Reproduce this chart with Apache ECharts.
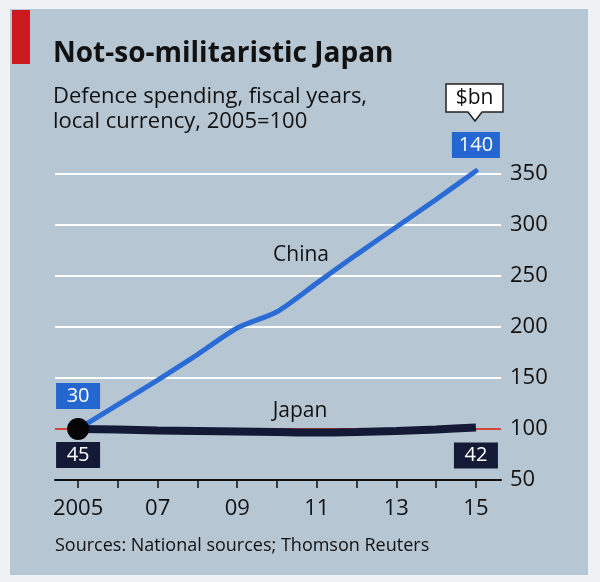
<!DOCTYPE html>
<html>
<head>
<meta charset="utf-8">
<script src="https://cdn.jsdelivr.net/npm/echarts@6/dist/echarts.min.js"></script>
<style>
  html, body { margin: 0; padding: 0; background: #eef2f5; }
  #wrap { position: relative; width: 600px; height: 582px; }
  #panel { position: absolute; left: 10px; top: 9px; width: 578px; height: 566px; background: #b6c6d3; }
  #chart { position: absolute; left: 0; top: 0; width: 600px; height: 582px; }
</style>
</head>
<body>
<div id="wrap"><div id="panel"></div><div id="chart"></div></div>
<script>
// ---- data ----
const years = [2005, 2006, 2007, 2008, 2009, 2010, 2011, 2012, 2013, 2014, 2015];
const china = [100, 124, 148, 173, 199, 215, 243, 271, 298, 325, 353];
const japan = [100, 99.5, 98.5, 98, 97.5, 97, 96.5, 97, 98, 99.5, 101.5];
const yTicks = [50, 100, 150, 200, 250, 300, 350];
const xLabelYears = [2005, 2007, 2009, 2011, 2013, 2015];
const chinaBn = ['30', '140'];   // $bn at 2005, 2015
const japanBn = ['45', '42'];    // $bn at 2005, 2015

const FONT = "'Open Sans', 'Noto Sans', sans-serif";
const BLUE = '#2a6bd6';
const BOXBLUE = '#2467d0';
const NAVY = '#141a36';

const chart = echarts.init(document.getElementById('chart'), null, { renderer: 'canvas' });

const chinaData = years.map((y, i) => [y, china[i]]);
const japanData = years.map((y, i) => [y, japan[i]]);
const last = years.length - 1;
const yMax = yTicks[yTicks.length - 1];

function box(coord, text, color, w, offY) {
  return {
    coord: coord,
    symbol: 'rect',
    symbolSize: [w, 26],
    symbolOffset: [0, offY],
    itemStyle: { color: color },
    label: {
      show: true, position: 'inside', formatter: text,
      color: '#fff', fontFamily: FONT, fontSize: 20
    }
  };
}

const option = {
  backgroundColor: 'transparent',
  animation: false,
  grid: { left: 55, right: 99, top: 174, bottom: 102, containLabel: false },
  xAxis: {
    type: 'value',
    min: 2004.42,
    max: 2015.63,
    axisLine: { show: true, lineStyle: { color: '#111', width: 2 } },
    axisTick: { show: true, customValues: years, length: 8, inside: false, lineStyle: { color: '#111', width: 1.5 } },
    axisLabel: {
      customValues: xLabelYears,
      margin: 18,
      fontFamily: FONT, fontSize: 22, color: '#111',
      formatter: v => (v === 2005 ? '2005' : String(v).slice(2))
    },
    splitLine: { show: false }
  },
  yAxis: {
    type: 'value',
    position: 'right',
    min: yTicks[0], max: yMax, interval: 50,
    axisLine: { show: false },
    axisTick: { show: false },
    axisLabel: { margin: 9, fontFamily: FONT, fontSize: 22, color: '#111' },
    splitLine: {
      show: true,
      lineStyle: { color: ['rgba(0,0,0,0)', '#d3463b', '#ffffff', '#ffffff', '#ffffff', '#ffffff', '#ffffff'], width: 2 }
    }
  },
  graphic: [
    { type: 'rect', shape: { x: 12, y: 10, width: 18, height: 54 }, style: { fill: '#cc1a1f' } },
    { type: 'text', x: 53, y: 54, style: { text: 'Not-so-militaristic Japan', font: "bold 28px " + FONT, fill: '#111', textVerticalAlign: 'middle' } },
    { type: 'text', x: 53, y: 97, style: { text: 'Defence spending, fiscal years,', font: "22px " + FONT, fill: '#111', textVerticalAlign: 'middle' } },
    { type: 'text', x: 53, y: 122, style: { text: 'local currency, 2005=100', font: "22px " + FONT, fill: '#111', textVerticalAlign: 'middle' } },
    { type: 'text', x: 55, y: 546, style: { text: 'Sources: National sources; Thomson Reuters', font: "18px " + FONT, fill: '#111', textVerticalAlign: 'middle' } },
    { type: 'polygon', shape: { points: [[446, 84], [503, 84], [503, 112], [482, 112], [475, 121], [468, 112], [446, 112]] }, style: { fill: '#fff', stroke: '#222', lineWidth: 1.5 } },
    { type: 'text', x: 474.5, y: 98, style: { text: '$bn', font: "21px " + FONT, fill: '#111', textAlign: 'center', textVerticalAlign: 'middle' } },
    { type: 'text', x: 301, y: 255, style: { text: 'China', font: "21px " + FONT, fill: '#111', textAlign: 'center', textVerticalAlign: 'middle' } },
    { type: 'text', x: 300, y: 411, style: { text: 'Japan', font: "21px " + FONT, fill: '#111', textAlign: 'center', textVerticalAlign: 'middle' } }
  ],
  series: [
    {
      name: 'China', type: 'line', data: chinaData, z: 2, clip: false,
      smooth: 0.25, symbol: 'none',
      lineStyle: { color: BLUE, width: 5, cap: 'round' },
      markPoint: {
        z: 6,
        data: [
          box([years[0], china[0]], chinaBn[0], BOXBLUE, 44, -33),
          box([years[last], yMax], chinaBn[1], BOXBLUE, 48, -29)
        ]
      }
    },
    {
      name: 'Japan', type: 'line', data: japanData, z: 3, clip: false,
      smooth: 0.25, symbol: 'none',
      lineStyle: { color: NAVY, width: 8 },
      markPoint: {
        z: 7,
        data: [
          { coord: [years[0], japan[0]], symbol: 'circle', symbolSize: 22, itemStyle: { color: '#050505' }, label: { show: false } },
          box([years[0], japan[0]], japanBn[0], NAVY, 44, 26),
          box([years[last], japan[last]], japanBn[1], NAVY, 44, 28)
        ]
      }
    }
  ]
};

chart.setOption(option);
</script>
</body>
</html>
